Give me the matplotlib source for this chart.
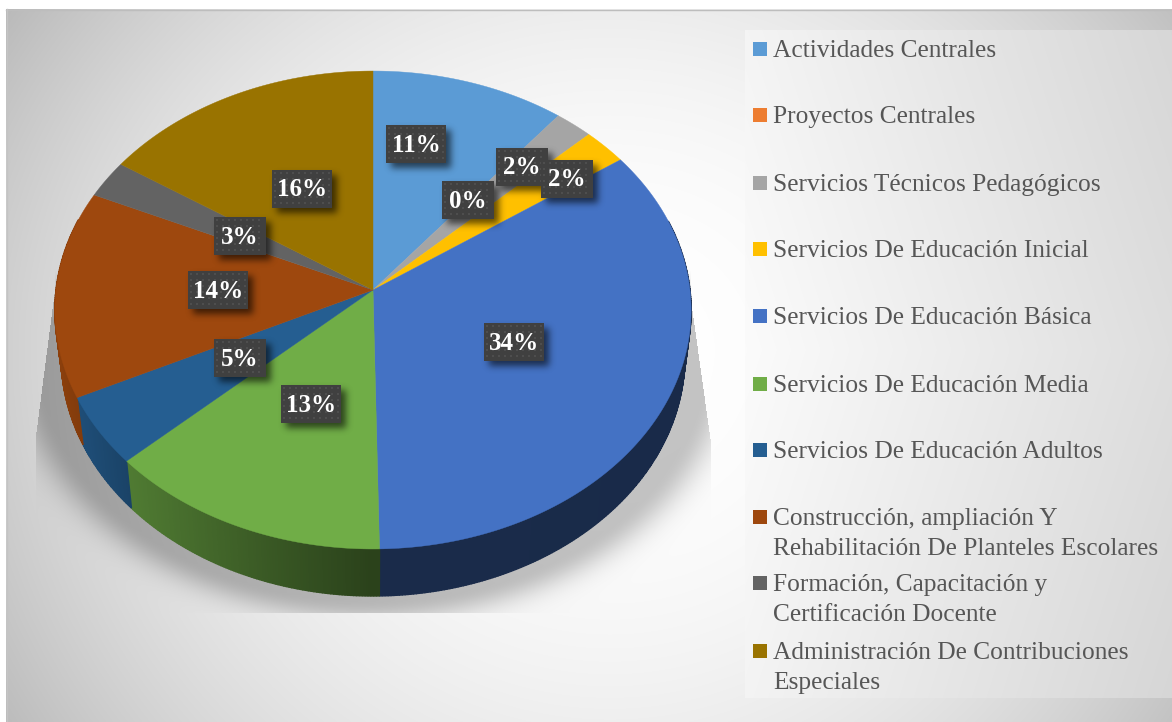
import numpy as np
import matplotlib
matplotlib.use('Agg')
import matplotlib.pyplot as plt
from matplotlib.patches import Rectangle

categories = ['Actividades Centrales', 'Proyectos Centrales', 'Servicios Técnicos Pedagógicos',
              'Servicios De Educación Inicial', 'Servicios De Educación Básica',
              'Servicios De Educación Media', 'Servicios De Educación Adultos',
              'Construcción, ampliación Y\nRehabilitación De Planteles Escolares',
              'Formación, Capacitación y\nCertificación Docente',
              'Administración De Contribuciones\nEspeciales']
values = [10.7, 0.0, 2.1, 2.45, 34.45, 13.4, 4.7, 14.0, 2.55, 15.65]
colors = ['#5b9bd5', '#ed7d31', '#a5a5a5', '#ffc000', '#4472c4',
          '#70ad47', '#255e91', '#9e480e', '#636363', '#997300']

# label box centres in pixels, same order as values
label_x = [416, 468, 522, 567, 514, 311, 240, 218, 240, 302]
label_y = [144, 200, 167, 179, 342, 404, 358, 290, 236, 189]
legend_y = [49, 115, 183, 249, 316, 384, 450, 517, 583, 651]

W, H = 1172, 722
cx, cy = 373, 290
k, a, b = 0.0837, 237.3, 317.0
depth = 47
rim_shrink = 0.98


def project(t):
    # t is clockwise from top, perspective view of the unit circle
    x, y = np.sin(t), np.cos(t)
    d = 1 + k * y
    return cx + b * x / d, cy - a * y / d


def blur(arr, sigma):
    n = int(sigma * 3)
    kern = np.exp(-np.arange(-n, n + 1) ** 2 / (2.0 * sigma ** 2))
    kern /= kern.sum()
    arr = np.apply_along_axis(lambda r: np.convolve(r, kern, mode='same'), 0, arr)
    return np.apply_along_axis(lambda r: np.convolve(r, kern, mode='same'), 1, arr)


fig = plt.figure(figsize=(W / 100, H / 100), dpi=100)
ax = fig.add_axes([0, 0, 1, 1])
ax.set_xlim(0, W)
ax.set_ylim(H, 0)
ax.axis('off')

# background
yy, xx = np.mgrid[0:H, 0:W] + 0.5
dy = (yy - 350) * np.where(yy < 350, 1.15, 1.0)
dist = np.sqrt((xx - 610) ** 2 + dy ** 2) / 680.0
bg = 1 - 0.24 * dist ** 2.2

# legend panel has its own gradient
panel = (xx >= 745) & (yy >= 30) & (yy <= 698)
bg[panel] = 0.985 - 0.115 * ((xx[panel] - 745) / 427.0) - 0.03 * np.abs(yy[panel] - 350) / 350.0

# shadow below the pie, cut off flat at the bottom
edist = np.sqrt(((xx - cx) / 332.0) ** 2 + ((yy - 355) / 245.0) ** 2)
s = np.clip((edist - 1) * 270, 0, None)
shade = 0.23 * np.exp(-(s / 24.0) ** 2)
mask = (xx < 691 + np.clip(yy - 300, 0, 140) * 0.14) & (xx > 55 - np.clip(yy - 290, 0, 150) * 0.13)
mask = mask & (yy > 270) & (yy < 613)
shade = shade * mask * np.clip((yy - 270) / 50.0, 0, 1)
bg = bg - shade

bg = np.clip(bg, 0, 1)
rgb = np.dstack([bg, bg, bg])
rgb[:9, :] = 1
rgb[:, :6] = 1
ax.imshow(rgb, extent=[0, W, H, 0], aspect='auto', zorder=0, interpolation='nearest')
ax.plot([6, W], [9.5, 9.5], color='#bdbdbd', lw=1, zorder=1)
ax.plot([6.5, 6.5], [9, H], color='#c4c4c4', lw=1, zorder=1)

ax.set_xlim(0, W)
ax.set_ylim(H, 0)

# slices and rim
edges = np.concatenate([[0], np.cumsum(values)]) / np.sum(values) * 2 * np.pi
for i, c in enumerate(colors):
    if values[i] <= 0:
        continue
    base = np.array(matplotlib.colors.to_rgb(c))
    ts = np.linspace(edges[i], edges[i + 1], max(2, int((edges[i + 1] - edges[i]) * 120)))
    px, py = project(ts)
    qx = cx + (px - cx) * rim_shrink
    for j in range(len(ts) - 1):
        if np.cos(ts[j]) > 0.3:
            continue
        f = np.interp((px[j] - cx) / 318.0, [-1, -0.77, -0.3, 0, 1], [0.88, 0.71, 0.5, 0.38, 0.37])
        ax.fill([px[j], px[j + 1], qx[j + 1], qx[j]],
                [py[j], py[j + 1], py[j + 1] + depth, py[j] + depth],
                color=base * f, lw=1.0, zorder=2)

for i, c in enumerate(colors):
    if values[i] <= 0:
        continue
    ts = np.linspace(edges[i], edges[i + 1], 200)
    px, py = project(ts)
    ax.fill(np.r_[cx, px], np.r_[cy, py], color=c, lw=0.3, zorder=3)

# data labels
box_w = [60 if v >= 9.5 else 52 for v in values]
box_h = 38
shadow = np.zeros((H, W))
for lx, ly, w in zip(label_x, label_y, box_w):
    shadow[ly - box_h // 2 + 5:ly + box_h // 2 + 5, lx - w // 2 + 5:lx + w // 2 + 5] = 0.6
shadow = blur(shadow, 3.5)
rgba = np.zeros((H, W, 4))
rgba[..., 3] = shadow
ax.imshow(rgba, extent=[0, W, H, 0], aspect='auto', zorder=4, interpolation='bilinear')
ax.set_xlim(0, W)
ax.set_ylim(H, 0)

for i, v in enumerate(values):
    x0 = label_x[i] - box_w[i] / 2
    y0 = label_y[i] - box_h / 2
    z = 5 + i * 0.1
    ax.add_patch(Rectangle((x0, y0), box_w[i], box_h, fc='#404040', ec='none', zorder=z))
    gx, gy = np.meshgrid(np.arange(x0 + 3, x0 + box_w[i] - 1, 6), np.arange(y0 + 3, y0 + box_h - 1, 6))
    ax.scatter(gx.ravel(), gy.ravel(), s=2.6, marker='s', c='#4e4e4e', linewidths=0, zorder=z + 0.01)
    ax.text(label_x[i], label_y[i] + 1, '%.0f%%' % v, color='white', fontsize=18, fontweight='bold',
            family='Liberation Serif', ha='center', va='center', zorder=z + 0.02)

# legend
for name, c, ly in zip(categories, colors, legend_y):
    ax.add_patch(Rectangle((753, ly - 7), 14, 14, fc=c, ec='none', zorder=5))
    for n, line in enumerate(name.split('\n')):
        ax.text(773, ly + 8 + n * 30, line, color='#565656', fontsize=18.3,
                family='Liberation Serif', ha='left', va='baseline', zorder=5)

fig.savefig('out.png', dpi=100)
